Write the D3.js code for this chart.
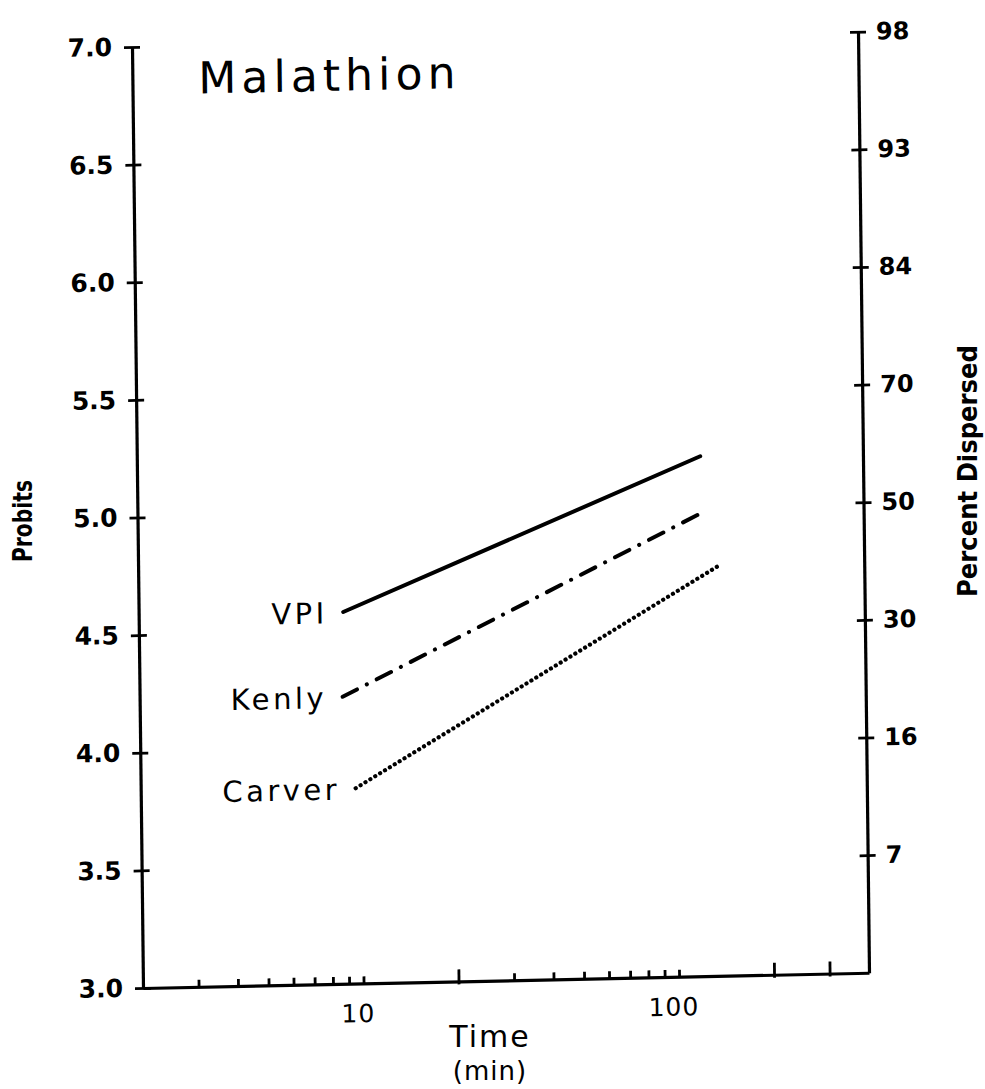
<!DOCTYPE html>
<html>
<head>
<meta charset="utf-8">
<script src="https://cdn.jsdelivr.net/npm/d3@7"></script>
<style>
  body { margin: 0; background: #fff; }
  svg { display: block; background: #fff; }
</style>
</head>
<body>
<svg id="chart" width="985" height="1089"></svg>
<script>
// Malathion: probit regression lines of dispersal vs. exposure time (log minutes)
const seriesNames = ["VPI", "Kenly", "Carver"];
const seriesStart = [[8.9, 4.58], [8.8, 4.22], [9.6, 3.83]];   // [time, probit]
const seriesEnd   = [[122, 5.21], [123, 4.97], [137, 4.74]];
const seriesDash  = [null, "16 11 0.1 11", "0.1 5.6"];
const seriesWidth = [4, 4, 4.2];

const probitTicks   = [3.0, 3.5, 4.0, 4.5, 5.0, 5.5, 6.0, 6.5, 7.0];
const percentTicks  = [3.5, 4.0, 4.5, 5.0, 5.5, 6.0, 6.5, 7.0];
const percentLabels = ["7", "16", "30", "50", "70", "84", "93", "98"];
const timeTicks  = [3, 4, 5, 6, 7, 8, 9, 10, 20, 30, 40, 50, 60, 70, 80, 90, 100, 200, 300];
const timeLabels = [10, 100];
const longTimeTicks = [20, 200, 300];
const timeDomain   = [2, 400];
const probitDomain = [3, 7];

const svg = d3.select("#chart");

const plotLeft = 143, plotRight = 869, plotTop = 47, plotBottom = 988;
const x = d3.scaleLog().domain(timeDomain).range([plotLeft, plotRight]);
const y = d3.scaleLinear().domain(probitDomain).range([plotBottom, plotTop]);

// the plotted frame sits slightly askew on the page
const plot = svg.append("g")
  .attr("transform", `matrix(1,-0.021,0.0117,1,${-0.0117 * plotBottom},${0.021 * plotLeft})`);

const axisStyle = g => {
  g.select(".domain").attr("stroke", "#000").attr("stroke-width", 3.2);
  g.selectAll(".tick line").attr("stroke", "#000").attr("stroke-width", 2.8);
};

// left probit axis
const gl = plot.append("g")
  .attr("transform", `translate(${plotLeft},0)`)
  .call(d3.axisLeft(y).tickValues(probitTicks).tickFormat(d3.format(".1f"))
    .tickSize(8).tickSizeOuter(0).tickPadding(12));
axisStyle(gl);
gl.selectAll(".tick line").attr("x1", -8).attr("x2", 8);
gl.selectAll(".tick text")
  .attr("font-family", "DejaVu Sans, sans-serif")
  .attr("font-weight", "bold")
  .attr("font-size", 25)
  .attr("fill", "#000");

// right percent axis
const gr = plot.append("g")
  .attr("transform", `translate(${plotRight},0)`)
  .call(d3.axisRight(y).tickValues(percentTicks)
    .tickFormat(d => percentLabels[percentTicks.indexOf(d)])
    .tickSize(8).tickSizeOuter(0).tickPadding(10));
axisStyle(gr);
gr.selectAll(".tick line").attr("x1", -8).attr("x2", 8);
gr.selectAll(".tick text")
  .attr("font-family", "DejaVu Sans, sans-serif")
  .attr("font-weight", "bold")
  .attr("font-size", 24)
  .attr("fill", "#000");

// bottom time axis
const gb = plot.append("g")
  .attr("transform", `translate(0,${plotBottom})`)
  .call(d3.axisBottom(x).tickValues(timeTicks)
    .tickFormat(d => timeLabels.includes(d) ? String(d) : "")
    .tickSizeOuter(0));
axisStyle(gb);
gb.selectAll(".tick line")
  .attr("y1", d => longTimeTicks.includes(d) ? 3 : 1)
  .attr("y2", d => longTimeTicks.includes(d) ? -12 : -7);
gb.selectAll(".tick text")
  .attr("x", -6)
  .attr("y", 30)
  .attr("dy", "0.35em")
  .attr("font-family", "DejaVu Sans, sans-serif")
  .attr("font-size", 25)
  .attr("letter-spacing", 1)
  .attr("fill", "#000");

// regression lines
const line = d3.line().x(d => x(d[0])).y(d => y(d[1]));
seriesNames.forEach((name, i) => {
  plot.append("path")
    .datum([seriesStart[i], seriesEnd[i]])
    .attr("d", line)
    .attr("fill", "none")
    .attr("stroke", "#000")
    .attr("stroke-width", seriesWidth[i])
    .attr("stroke-linecap", "round")
    .attr("stroke-dasharray", seriesDash[i]);
  plot.append("text")
    .attr("x", x(seriesStart[i][0]) - 15.5)
    .attr("y", y(seriesStart[i][1]))
    .attr("dy", "0.38em")
    .attr("text-anchor", "end")
    .attr("font-family", "DejaVu Sans, sans-serif")
    .attr("font-size", 29)
    .attr("letter-spacing", 3.5)
    .attr("fill", "#000")
    .text(name);
});

// chart title
plot.append("text")
  .attr("x", 209)
  .attr("y", 95)
  .attr("font-family", "DejaVu Sans, sans-serif")
  .attr("font-size", 44)
  .attr("textLength", 257)
  .attr("lengthAdjust", "spacing")
  .attr("fill", "#000")
  .text("Malathion");

// axis titles
svg.append("text")
  .attr("transform", "translate(32,521) rotate(-90)")
  .attr("text-anchor", "middle")
  .attr("font-family", "Liberation Sans Narrow, DejaVu Sans Condensed, sans-serif")
  .attr("font-size", 26)
  .attr("font-weight", "bold")
  .attr("textLength", 82)
  .attr("lengthAdjust", "spacingAndGlyphs")
  .attr("fill", "#000")
  .text("Probits");

svg.append("text")
  .attr("transform", "translate(977,471) rotate(-90)")
  .attr("text-anchor", "middle")
  .attr("font-family", "Liberation Sans Narrow, DejaVu Sans Condensed, sans-serif")
  .attr("font-size", 26)
  .attr("font-weight", "bold")
  .attr("textLength", 252)
  .attr("lengthAdjust", "spacingAndGlyphs")
  .attr("fill", "#000")
  .text("Percent Dispersed");

svg.append("text")
  .attr("x", 490).attr("y", 1047)
  .attr("text-anchor", "middle")
  .attr("font-family", "DejaVu Sans, sans-serif")
  .attr("font-size", 30)
  .attr("letter-spacing", 2)
  .attr("fill", "#000")
  .text("Time");

svg.append("text")
  .attr("x", 490).attr("y", 1080)
  .attr("text-anchor", "middle")
  .attr("font-family", "DejaVu Sans, sans-serif")
  .attr("font-size", 26)
  .attr("letter-spacing", 1)
  .attr("fill", "#000")
  .text("(min)");
</script>
</body>
</html>
